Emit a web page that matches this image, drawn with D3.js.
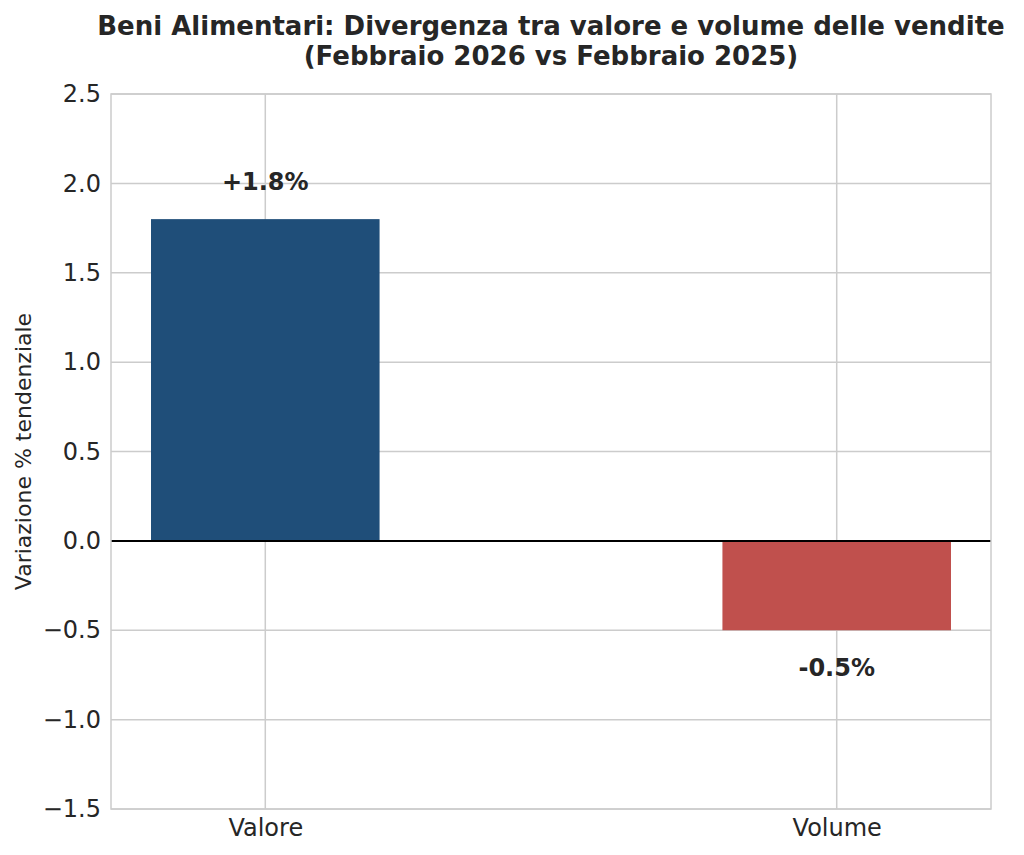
<!DOCTYPE html>
<html>
<head>
<meta charset="utf-8">
<script src="https://cdn.jsdelivr.net/npm/d3@7"></script>
<style>
  body { margin: 0; background: #fff; }
  text { font-family: "DejaVu Sans", sans-serif; fill: #262626; }
</style>
</head>
<body>
<svg id="chart" width="1024" height="855"></svg>
<script>
// Data
const categories = ["Valore", "Volume"];
const values = [1.8, -0.5];
const barColors = ["#1f4e79", "#c0504d"];
const labels = ["+1.8%", "-0.5%"];
const yTicks = [-1.5, -1.0, -0.5, 0.0, 0.5, 1.0, 1.5, 2.0, 2.5];

const svg = d3.select("#chart");
const m = {left: 111, right: 33, top: 94, bottom: 46};
const W = 1024, H = 855;
const pw = W - m.left - m.right, ph = H - m.top - m.bottom;

// positional scale like matplotlib: bars at 0,1 width 0.4, margin 5%
const x = d3.scaleLinear().domain([-0.27, 1.27]).range([0, pw]);
const y = d3.scaleLinear().domain([-1.5, 2.5]).range([ph, 0]);
const barW = 0.4;

const g = svg.append("g").attr("transform", `translate(${m.left},${m.top})`);

// grid
g.append("g").selectAll("line").data(yTicks).join("line")
    .attr("x1", 0).attr("x2", pw)
    .attr("y1", d => y(d)).attr("y2", d => y(d))
    .attr("stroke", "#cccccc").attr("stroke-width", 1.5);
g.append("g").selectAll("line").data(categories).join("line")
    .attr("x1", (d, i) => x(i)).attr("x2", (d, i) => x(i))
    .attr("y1", 0).attr("y2", ph)
    .attr("stroke", "#cccccc").attr("stroke-width", 1.5);

// bars
g.append("g").selectAll("rect").data(values).join("rect")
    .attr("x", (d, i) => x(i - barW / 2))
    .attr("width", x(barW) - x(0))
    .attr("y", d => y(Math.max(0, d)))
    .attr("height", d => Math.abs(y(d) - y(0)))
    .attr("fill", (d, i) => barColors[i]);

// zero line
g.append("line")
    .attr("x1", 0).attr("x2", pw)
    .attr("y1", y(0)).attr("y2", y(0))
    .attr("stroke", "#000").attr("stroke-width", 2);

// value labels
g.append("g").selectAll("text").data(values).join("text")
    .attr("x", (d, i) => x(i))
    .attr("y", d => d >= 0 ? y(d) - 29 : y(d) + 46)
    .attr("text-anchor", "middle")
    .attr("font-size", 24).attr("font-weight", "bold")
    .text((d, i) => labels[i]);

// frame
g.append("rect").attr("width", pw).attr("height", ph)
    .attr("fill", "none").attr("stroke", "#cccccc").attr("stroke-width", 1.5);

// y axis
const yAxis = g.append("g").call(d3.axisLeft(y).tickValues(yTicks).tickSize(0).tickPadding(10)
    .tickFormat(d => d3.format(".1f")(d).replace("-", "\u2212")));
yAxis.select(".domain").remove();
yAxis.selectAll("text").attr("font-size", 24).attr("fill", "#262626")
    .attr("font-family", "DejaVu Sans, sans-serif");

// x axis
const xAxis = g.append("g").attr("transform", `translate(0,${ph})`)
    .call(d3.axisBottom(x).tickValues([0, 1]).tickSize(0).tickPadding(10)
    .tickFormat(i => categories[i]));
xAxis.select(".domain").remove();
xAxis.selectAll("text").attr("font-size", 24).attr("fill", "#262626")
    .attr("font-family", "DejaVu Sans, sans-serif");

// y label
svg.append("text")
    .attr("transform", `translate(31,${m.top + ph / 2}) rotate(-90)`)
    .attr("text-anchor", "middle").attr("font-size", 22)
    .text("Variazione % tendenziale");

// title
const title = svg.append("text").attr("text-anchor", "middle")
    .attr("font-size", 26).attr("font-weight", "bold");
title.append("tspan").attr("x", m.left + pw / 2).attr("y", 35)
    .text("Beni Alimentari: Divergenza tra valore e volume delle vendite");
title.append("tspan").attr("x", m.left + pw / 2).attr("y", 65)
    .text("(Febbraio 2026 vs Febbraio 2025)");
</script>
</body>
</html>
